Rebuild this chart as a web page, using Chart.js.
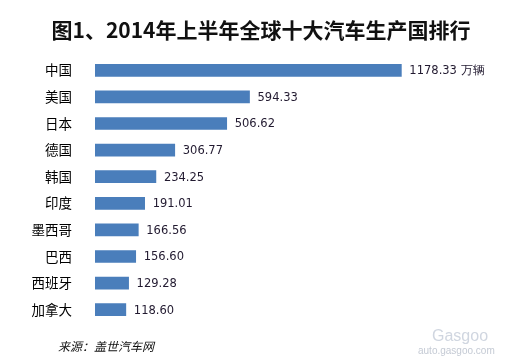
<!DOCTYPE html>
<html><head><meta charset="utf-8">
<script src="https://cdn.jsdelivr.net/npm/chart.js@4/dist/chart.umd.min.js"></script>
<style>html,body{margin:0;padding:0;background:#fff;}#wrap{width:508px;height:359px;}</style>
</head><body><div id="wrap"><canvas id="c" width="508" height="359"></canvas></div>
<script>
const categories = ["中国","美国","日本","德国","韩国","印度","墨西哥","巴西","西班牙","加拿大"];
const values = [1178.33,594.33,506.62,306.77,234.25,191.01,166.56,156.60,129.28,118.60];
const valueLabels = ["1178.33 万辆","594.33","506.62","306.77","234.25","191.01","166.56","156.60","129.28","118.60"];
const titleText = "图1、2014年上半年全球十大汽车生产国排行";
const sourceText = "来源：盖世汽车网";

const textPlugin = {
  id: 'texts',
  afterDatasetsDraw(chart) {
    const ctx = chart.ctx;
    const meta = chart.getDatasetMeta(0);
    ctx.save();
    ctx.font = '11.5px "DejaVu Sans"';
    ctx.fillStyle = '#221a30';
    ctx.textAlign = 'left';
    ctx.textBaseline = 'middle';
    meta.data.forEach((bar, i) => {
      ctx.fillText(valueLabels[i], bar.x + 8, bar.y + 1);
    });
    ctx.font = 'bold 21px "Noto Sans CJK SC"';
    ctx.fillStyle = '#111';
    ctx.textAlign = 'center';
    ctx.fillText(titleText, 261, 30);
    ctx.font = 'italic 12px "Noto Sans CJK SC"';
    ctx.textAlign = 'left';
    ctx.fillStyle = '#111';
    ctx.fillText(sourceText, 58, 346);
    ctx.font = '10px "Liberation Sans"';
    ctx.fillStyle = '#c4cad4';
    ctx.fillText("auto.gasgoo.com", 418, 351);
    ctx.font = '16px "Liberation Sans"';
    ctx.fillStyle = '#d0d6e0';
    ctx.fillText("Gasgoo", 432, 337);
    ctx.restore();
  }
};

new Chart(document.getElementById('c'), {
  type: 'bar',
  data: {
    labels: categories,
    datasets: [{ data: values, backgroundColor: '#4A7EBB', barThickness: 12 }]
  },
  options: {
    indexAxis: 'y',
    responsive: false,
    animation: false,
    layout: { padding: { left: 0, top: 57, bottom: 36, right: 75 } },
    plugins: { legend: { display: false }, tooltip: { enabled: false }, title: { display: false } },
    scales: {
      x: { display: false, min: 0, max: 1300 },
      y: {
        grid: { display: false },
        border: { display: false },
        ticks: { color: '#000', font: { family: '"Noto Sans CJK SC"', size: 13.5 }, padding: 15 },
        afterFit(scale) { scale.width = 95; }
      }
    }
  },
  plugins: [textPlugin]
});
</script></body></html>
